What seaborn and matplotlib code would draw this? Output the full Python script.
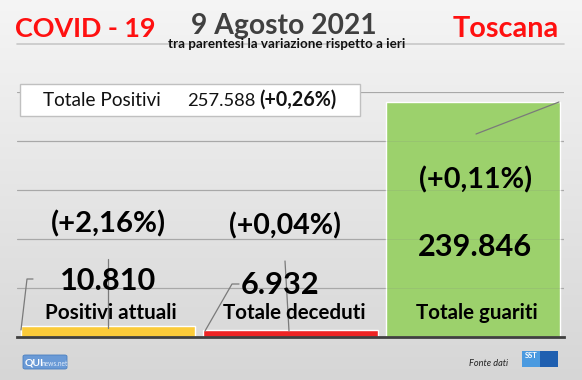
import numpy as np
import pandas as pd
import matplotlib
matplotlib.use("Agg")
import matplotlib.pyplot as plt
import seaborn as sns
from matplotlib.patches import Rectangle, FancyBboxPatch
from matplotlib.lines import Line2D

# ---------------- data ----------------
categories = ["Positivi attuali", "Totale deceduti", "Totale guariti"]
values = [10810, 6932, 239846]
value_labels = ["10.810", "6.932", "239.846"]
change_labels = ["(+2,16%)", "(+0,04%)", "(+0,11%)"]
bar_colors = ["#FBCB3A", "#EE2424", "#9CD16C"]
total_label = "Totale Positivi"
total_value = "257.588"
total_change = "(+0,26%)"
title_left = "COVID - 19"
title_mid = "9 Agosto 2021"
subtitle = "tra parentesi la variazione rispetto a ieri"
title_right = "Toscana"
y_ticks = [0, 50000, 100000, 150000, 200000, 250000]

W, H = 582, 380
sns.set_theme(style="white")
plt.rcParams["font.family"] = ["Lato", "DejaVu Sans"]

fig = plt.figure(figsize=(W / 100, H / 100), dpi=100)

def fx(x):
    return x / W

def fy(y):
    return 1 - y / H

# background gradient
bg = fig.add_axes([0, 0, 1, 1], zorder=-10)
grad = np.linspace(0, 1, 256).reshape(-1, 1)
top = np.array([0.96, 0.96, 0.96])
bot = np.array([0.84, 0.84, 0.84])
img = top[None, None, :] * (1 - grad[:, :, None]) + bot[None, None, :] * grad[:, :, None]
bg.imshow(img, aspect="auto", extent=[0, 1, 0, 1], origin="upper")
bg.set_axis_off()

# main axes
ax = fig.add_axes([fx(17), 1 - 337 / H, (564 - 17) / W, (337 - 92) / H])
ax.set_facecolor("none")
df = pd.DataFrame({"cat": categories, "val": values})
sns.barplot(data=df, x="cat", y="val", hue="cat", palette=bar_colors,
            width=0.955, saturation=1, legend=False, ax=ax, zorder=2)
ax.set_ylim(0, 250000)
ax.set_xlim(-0.5, 2.5)
ax.set_yticks(y_ticks)
ax.set_xticks([])
ax.set_yticklabels([])
ax.tick_params(left=False, bottom=False)
ax.set_xlabel("")
ax.set_ylabel("")
for yv in y_ticks[1:]:
    ax.axhline(yv, color="#b0b0b0", lw=0.9, zorder=1)
    ax.axhline(yv, color="#808080", lw=0.6, alpha=0.18, zorder=3)
for s in ["top", "right", "left"]:
    ax.spines[s].set_visible(False)
ax.spines["bottom"].set_color("#404040")
ax.spines["bottom"].set_linewidth(2)
ax.spines["bottom"].set_zorder(4)

renderer = fig.canvas.get_renderer()

def fit(s, x, by, w, ha="center", boost=1.06, **kw):
    t = fig.text(fx(x), fy(by), s, ha=ha, va="baseline", **kw)
    bb = t.get_window_extent(renderer)
    t.set_fontsize(t.get_fontsize() * w / bb.width * boost)
    return t

# titles
fit(title_left, 85, 37, 133, color="#FF1010", fontweight="bold", fontsize=20)
fit(title_mid, 283.5, 34, 175, color="#404040", fontweight="bold", fontsize=20)
fit(subtitle, 287, 48, 224, color="#111111", fontweight="bold", fontsize=8)
fit(title_right, 506, 37, 100, color="#FF1010", fontweight="bold", fontsize=20)
fig.add_artist(Line2D([fx(17), fx(564)], [fy(43.5), fy(43.5)], color="#c8c8c8", lw=1.2))

# total box
fig.add_artist(Rectangle((fx(20), fy(116)), fx(360) - fx(20), fy(84) - fy(116),
                         facecolor="white", edgecolor="#c0c0c0", lw=1, zorder=5))
fit(total_label, 43, 106, 118, ha="left", boost=1.0, color="#111111", fontsize=13, zorder=6)
fit(total_value, 187, 106, 68, ha="left", boost=1.0, color="#111111", fontsize=13, zorder=6)
fit(total_change, 259, 106, 77, ha="left", boost=1.0, color="#111111", fontweight="bold", fontsize=13, zorder=6)

# leader lines
lc = "#7a7a7a"
for xs, ys in [([21, 27, 33], [330, 279, 279]), ([108, 108], [259, 328]),
               ([205, 232, 239], [331, 284, 284]), ([285, 289], [261, 331]),
               ([476, 559], [134, 102])]:
    fig.add_artist(Line2D([fx(v) for v in xs], [fy(v) for v in ys], color=lc, lw=0.9, zorder=6))

# bar labels
chg_pos = [(108, 232, 108), (285, 234, 106), (476, 188, 107)]
val_pos = [(108, 290, 91), (280, 294, 74), (475, 256, 107)]
cat_pos = [(111, 319, 125), (294.5, 319, 135), (477, 319, 116)]
for i in range(3):
    x, y, w = chg_pos[i]
    fit(change_labels[i], x, y, w, color="black", fontweight="bold", fontsize=20, zorder=7)
    x, y, w = val_pos[i]
    fit(value_labels[i], x, y, w, color="black", fontweight="bold", fontsize=20, zorder=7)
    x, y, w = cat_pos[i]
    fit(categories[i], x, y, w, color="black", fontweight="bold", fontsize=14, zorder=7)

# footer
fit("Fonte dati", 488.5, 366, 37, color="#222222", fontstyle="italic", fontsize=7)
fig.add_artist(FancyBboxPatch((fx(23), fy(369)), fx(67) - fx(23), fy(355) - fy(369),
                              boxstyle="round,pad=0,rounding_size=0.004",
                              facecolor="#6a9ad6", edgecolor="#4a7fc0", lw=0.6))
fig.text(fx(25), fy(365.5), "QUI", color="white", fontweight="bold", fontsize=7.5, va="baseline")
fig.text(fx(42), fy(365.5), "news.net", color="#e4eefa", fontsize=4.8, va="baseline")
fig.add_artist(Rectangle((fx(522), fy(367)), fx(540) - fx(522), fy(351) - fy(367),
                         facecolor="#4a9ae0", edgecolor="none"))
fig.add_artist(Rectangle((fx(540), fy(367)), fx(558) - fx(540), fy(351) - fy(367),
                         facecolor="#1f5fb0", edgecolor="none"))
fig.text(fx(531), fy(357.5), "SST", color="white", fontweight="bold", fontsize=5.5, ha="center", va="baseline")

fig.savefig("out.png", dpi=100)
